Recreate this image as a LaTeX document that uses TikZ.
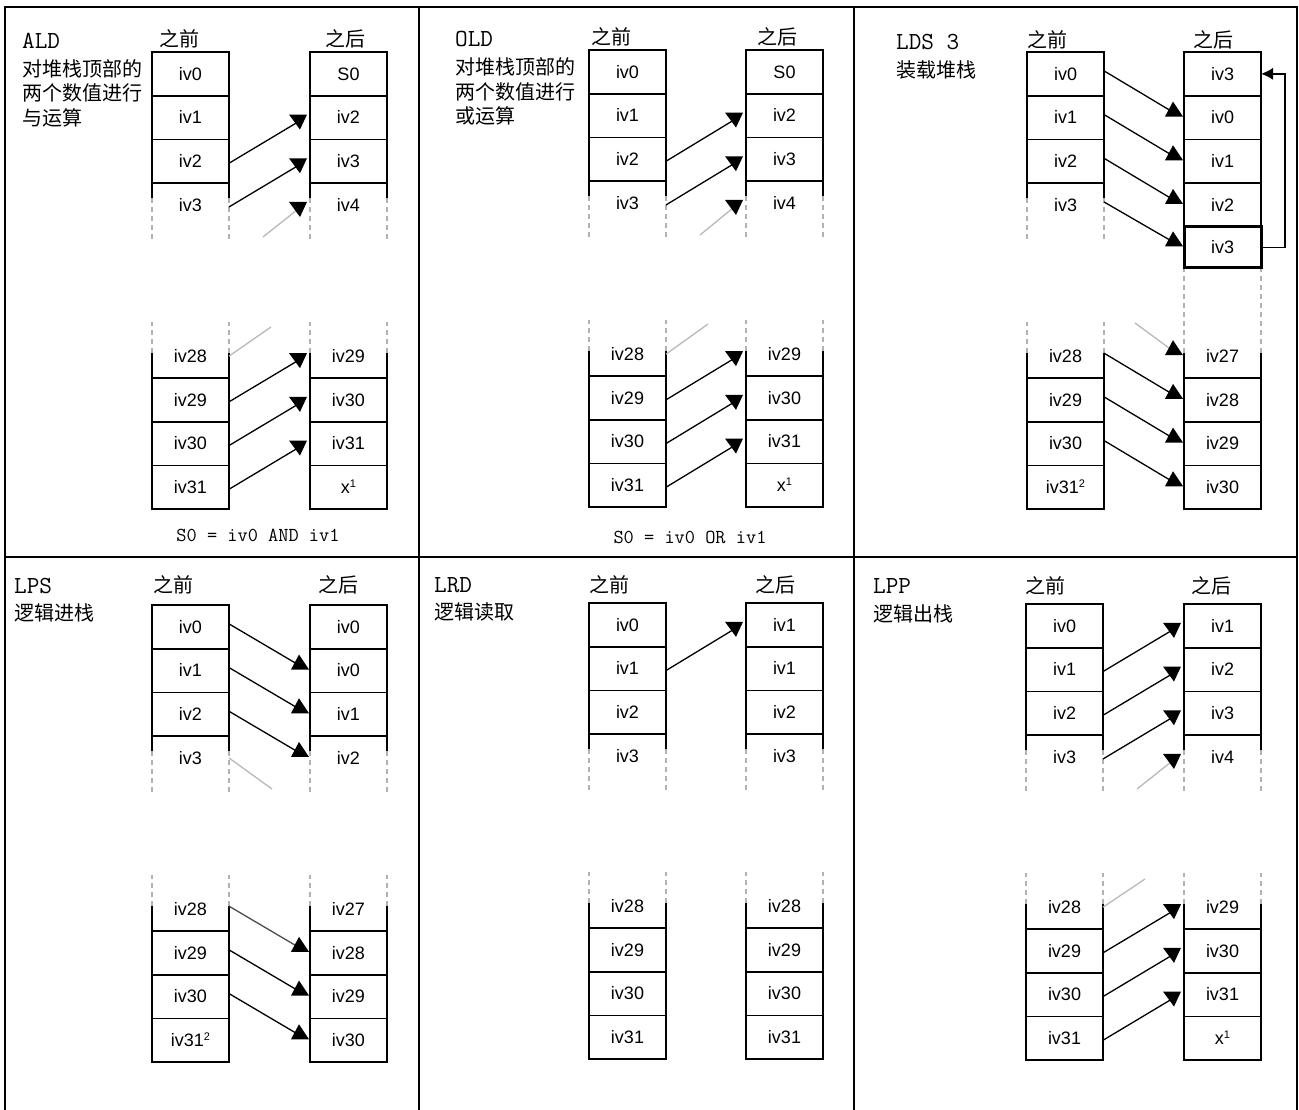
\documentclass[tikz,border=0pt]{standalone}
\usepackage{fontspec}
\setmainfont{Liberation Sans}
\newfontfamily\cjkf{Noto Sans CJK SC}
\usetikzlibrary{calc,arrows.meta}
\newcommand\supn[1]{\raisebox{6.5pt}{\fontsize{11pt}{11pt}\selectfont #1}}
\tikzset{
 cell/.style={draw, line width=1.6pt, outer sep=0pt, inner sep=0pt, minimum width=77pt, minimum height=43.7pt, anchor=north west, font=\fontsize{18pt}{20pt}\selectfont, text height=12.8pt, text depth=0pt},
 ocell/.style={cell, draw=none},
 side/.style={line width=1.6pt},
 dside/.style={line width=1.3pt, gray!60, dash pattern=on 5pt off 4pt},
 conn/.style={line width=1.3pt},
 connG/.style={line width=1.3pt, gray!55},
 connM/.style={line width=1.3pt, black!70},
 frame/.style={line width=2.5pt},
 ttl/.style={anchor=west, inner sep=0pt, font=\ttfamily\fontsize{24.5pt}{26pt}\selectfont},
 cjk/.style={anchor=west, inner sep=0pt, align=left, font=\cjkf\fontsize{20pt}{24.5pt}\selectfont},
 hdr/.style={inner sep=0pt, font=\cjkf\fontsize{20pt}{24pt}\selectfont},
 frm/.style={inner sep=0pt, font=\ttfamily\fontsize{19.8pt}{22pt}\selectfont},
}
% top part of a stack: 3 closed cells and one open cell
\newcommand\StkTop[8][42]{%
 \node[cell] (#2-0) at (#3,#4) {#5};
 \node[cell] (#2-1) at (#3,#4+43.7) {#6};
 \node[cell] (#2-2) at (#3,#4+87.4) {#7};
 \node[ocell] (#2-3) at (#3,#4+131.1) {#8};
 \draw[side] (#2-3.north west) -- ++(0,15);
 \draw[side] (#2-3.north east) -- ++(0,15);
 \draw[dside] ($(#2-3.north west)+(0,15)$) -- ++(0,#1);
 \draw[dside] ($(#2-3.north east)+(0,15)$) -- ++(0,#1);
}
% bottom part of a stack: one open cell and 3 closed cells
\newcommand\StkBot[8][31]{%
 \node[ocell] (#2-0) at (#3,#4-43.7) {#5};
 \node[cell] (#2-1) at (#3,#4) {#6};
 \node[cell] (#2-2) at (#3,#4+43.7) {#7};
 \node[cell] (#2-3) at (#3,#4+87.4) {#8};
 \draw[side] (#2-1.north west) -- ++(0,-25);
 \draw[side] (#2-1.north east) -- ++(0,-25);
 \draw[dside] ($(#2-1.north west)+(0,-25)$) -- ++(0,-#1);
 \draw[dside] ($(#2-1.north east)+(0,-25)$) -- ++(0,-#1);
}
\newcommand\ArUp[3][conn]{%
 \draw[#1] ($(#2)+(0,2)$) -- ($(#3.west)+(-13,5)$);
 \fill ($(#3.west)+(-21,-3)$) -- ($(#3.west)+(-3,-3)$) -- ($(#3.west)+(-10,12)$) -- cycle;
}
\newcommand\ArDn[3][conn]{%
 \draw[#1] ($(#2)+(0,-3)$) -- ($(#3.west)+(-12,-6)$);
 \fill ($(#3.west)+(-19,-1)$) -- ($(#3.west)+(-1,-1)$) -- ($(#3.west)+(-11,-16)$) -- cycle;
}
\begin{document}
\begin{tikzpicture}[x=1pt,y=-1pt]
\useasboundingbox (0,0) rectangle (1299,1109);
\fill[white] (0,0) rectangle (1299,1109);
% frame
\draw[frame] (5,1115) -- (5,7) -- (1297,7) -- (1297,1115);
\draw[frame] (419,7) -- (419,1115);
\draw[frame] (854,7) -- (854,1115);
\draw[frame] (5,557) -- (1297,557);

% ===== ALD =====
\node[ttl] (ALDt) at (22,41) {ALD};
\node[cjk] (ALDd) at (22,93) {对堆栈顶部的\\两个数值进行\\与运算};
\node[hdr] (ALDh1) at (179,39) {之前};
\node[hdr] (ALDh2) at (345,39) {之后};
\StkTop{ALDL}{152}{52}{iv0}{iv1}{iv2}{iv3}
\StkTop{ALDR}{310}{52}{S0}{iv2}{iv3}{iv4}
\StkBot{ALDLb}{152}{378}{iv28}{iv29}{iv30}{iv31}
\StkBot{ALDRb}{310}{378}{iv29}{iv30}{iv31}{x\supn{1}}
\node[frm] (ALDf) at (258,535) {S0 = iv0 AND iv1};
\ArUp{ALDL-2.east}{ALDR-1}
\ArUp{ALDL-3.east}{ALDR-2}
\coordinate (ALDg1) at (263,235);
\ArUp[connG]{ALDg1}{ALDR-3}
\coordinate (ALDg2) at (271,327);
\draw[connG] (ALDLb-0.east) -- (ALDg2);
\ArUp{ALDLb-1.east}{ALDRb-0}
\ArUp{ALDLb-2.east}{ALDRb-1}
\ArUp{ALDLb-3.east}{ALDRb-2}

% ===== OLD =====
\node[ttl] (OLDt) at (455,39) {OLD};
\node[cjk] (OLDd) at (455,91.5) {对堆栈顶部的\\两个数值进行\\或运算};
\node[hdr] (OLDh1) at (611,37) {之前};
\node[hdr] (OLDh2) at (777,37) {之后};
\StkTop{OLDL}{589}{50}{iv0}{iv1}{iv2}{iv3}
\StkTop{OLDR}{746}{50}{S0}{iv2}{iv3}{iv4}
\StkBot{OLDLb}{589}{376}{iv28}{iv29}{iv30}{iv31}
\StkBot{OLDRb}{746}{376}{iv29}{iv30}{iv31}{x\supn{1}}
\node[frm] (OLDf) at (690,537) {S0 = iv0 OR iv1};
\ArUp{OLDL-2.east}{OLDR-1}
\ArUp{OLDL-3.east}{OLDR-2}
\coordinate (OLDg1) at (700,233);
\ArUp[connG]{OLDg1}{OLDR-3}
\coordinate (OLDg2) at (708,324);
\draw[connG] (OLDLb-0.east) -- (OLDg2);
\ArUp{OLDLb-1.east}{OLDRb-0}
\ArUp{OLDLb-2.east}{OLDRb-1}
\ArUp{OLDLb-3.east}{OLDRb-2}

% ===== LDS 3 =====
\node[ttl] (LDSt) at (896,42) {LDS 3};
\node[cjk] (LDSd) at (896,70) {装载堆栈};
\node[hdr] (LDSh1) at (1047,40) {之前};
\node[hdr] (LDSh2) at (1213,40) {之后};
\StkTop{LDSL}{1027}{52}{iv0}{iv1}{iv2}{iv3}
\node[cell] (LDSR-0) at (1184,52) {iv3};
\node[cell] (LDSR-1) at (1184,95.7) {iv0};
\node[cell] (LDSR-2) at (1184,139.4) {iv1};
\node[cell] (LDSR-3) at (1184,183.1) {iv2};
\node[cell, line width=3pt, minimum height=41pt] (LDSR-4) at (1184,226.8) {iv3};
\StkBot{LDSLb}{1027}{378}{iv28}{iv29}{iv30}{iv31\supn{2}}
\StkBot[84]{LDSRb}{1184}{378}{iv27}{iv28}{iv29}{iv30}
\ArDn{LDSL-0.east}{LDSR-1}
\ArDn{LDSL-1.east}{LDSR-2}
\ArDn{LDSL-2.east}{LDSR-3}
\ArDn{LDSL-3.east}{LDSR-4}
\draw[conn,-{Latex[length=12pt,width=12pt]}] (LDSR-4.east) -- ++(24,0) |- (LDSR-0.east);
\coordinate (LDSg1) at (1135,326);
\ArDn[connG]{LDSg1}{LDSRb-0}
\ArDn{LDSLb-0.east}{LDSRb-1}
\ArDn{LDSLb-1.east}{LDSRb-2}
\ArDn{LDSLb-2.east}{LDSRb-3}

% ===== LPS =====
\node[ttl] (LPSt) at (14,586) {LPS};
\node[cjk] (LPSd) at (14,613) {逻辑进栈};
\node[hdr] (LPSh1) at (173,585) {之前};
\node[hdr] (LPSh2) at (338,585) {之后};
\StkTop{LPSL}{152}{605}{iv0}{iv1}{iv2}{iv3}
\StkTop{LPSR}{310}{605}{iv0}{iv0}{iv1}{iv2}
\StkBot{LPSLb}{152}{931}{iv28}{iv29}{iv30}{iv31\supn{2}}
\StkBot{LPSRb}{310}{931}{iv27}{iv28}{iv29}{iv30}
\ArDn{LPSL-0.east}{LPSR-1}
\ArDn{LPSL-1.east}{LPSR-2}
\ArDn{LPSL-2.east}{LPSR-3}
\coordinate (LPSg1) at (272,789);
\draw[connG] (LPSL-3.east) -- (LPSg1);
\ArDn[connM]{LPSLb-0.east}{LPSRb-1}
\ArDn{LPSLb-1.east}{LPSRb-2}
\ArDn{LPSLb-2.east}{LPSRb-3}

% ===== LRD =====
\node[ttl] (LRDt) at (434,585) {LRD};
\node[cjk] (LRDd) at (434,612) {逻辑读取};
\node[hdr] (LRDh1) at (609,585) {之前};
\node[hdr] (LRDh2) at (775,585) {之后};
\StkTop{LRDL}{589}{603}{iv0}{iv1}{iv2}{iv3}
\StkTop{LRDR}{746}{603}{iv1}{iv1}{iv2}{iv3}
\StkBot{LRDLb}{589}{928}{iv28}{iv29}{iv30}{iv31}
\StkBot{LRDRb}{746}{928}{iv28}{iv29}{iv30}{iv31}
\ArUp{LRDL-1.east}{LRDR-0}

% ===== LPP =====
\node[ttl] (LPPt) at (873,586) {LPP};
\node[cjk] (LPPd) at (873,614) {逻辑出栈};
\node[hdr] (LPPh1) at (1045,586) {之前};
\node[hdr] (LPPh2) at (1211,586) {之后};
\StkTop{LPPL}{1026}{604}{iv0}{iv1}{iv2}{iv3}
\StkTop{LPPR}{1184}{604}{iv1}{iv2}{iv3}{iv4}
\StkBot{LPPLb}{1026}{929}{iv28}{iv29}{iv30}{iv31}
\StkBot{LPPRb}{1184}{929}{iv29}{iv30}{iv31}{x\supn{1}}
\ArUp{LPPL-1.east}{LPPR-0}
\ArUp{LPPL-2.east}{LPPR-1}
\ArUp{LPPL-3.east}{LPPR-2}
\coordinate (LPPg1) at (1137,787);
\ArUp[connG]{LPPg1}{LPPR-3}
\coordinate (LPPg2) at (1145,879);
\draw[connG] (LPPLb-0.east) -- (LPPg2);
\ArUp{LPPLb-1.east}{LPPRb-0}
\ArUp{LPPLb-2.east}{LPPRb-1}
\ArUp{LPPLb-3.east}{LPPRb-2}
\end{tikzpicture}
\end{document}
